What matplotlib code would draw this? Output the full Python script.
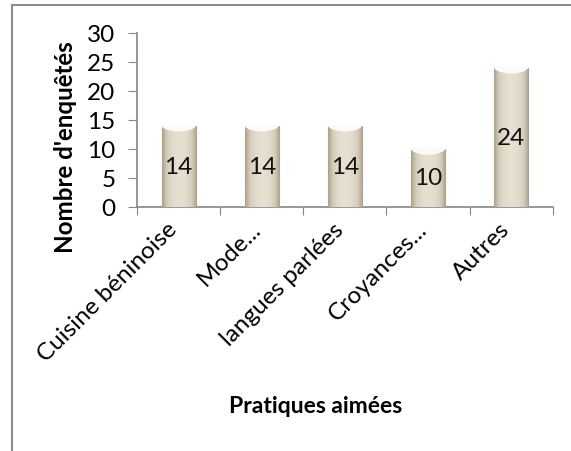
import matplotlib.pyplot as plt
import numpy as np
from matplotlib.patches import Ellipse
from matplotlib.lines import Line2D
from matplotlib.colors import LinearSegmentedColormap
from matplotlib.transforms import ScaledTranslation

## Data
categories = ['Cuisine béninoise', 'Mode...', 'langues parlées', 'Croyances...', 'Autres']
counts = [14, 14, 14, 10, 24]
y_ticks = [0, 5, 10, 15, 20, 25, 30]

plt.rcParams['font.family'] = ['Lato', 'DejaVu Sans']

fig = plt.figure(figsize=(5.71, 4.52), dpi=100)
ax = fig.add_axes([0.240, 0.540, 0.728, 0.385])

x = np.arange(len(categories))
bars = ax.bar(x, counts, width=0.41, color='#d8d0bf', edgecolor='#a9a292', linewidth=0.8, zorder=2)

## gradient fill + white cap on top of each bar
beige = LinearSegmentedColormap.from_list('beige', ['#e6e0d2', '#d6cdb9', '#aaa18e'])
grad = np.abs(np.linspace(-1, 1, 64)) ** 2
grad = grad[None, :]
for b, v in zip(bars, counts):
    x0 = b.get_x()
    w = b.get_width()
    im = ax.imshow(grad, extent=[x0, x0 + w, 0, v], aspect='auto', cmap=beige,
                   vmin=0, vmax=1, zorder=3)
    im.set_clip_path(b)
    cap = Ellipse((x0 + w / 2, v + 0.3), w * 1.05, 2.6, facecolor='#fbfaf6', edgecolor='none', zorder=4)
    ax.add_patch(cap)
    cap.set_clip_path(b)
    ax.text(x0 + w / 2, v / 2, str(v), ha='center', va='center', fontsize=17.5, color='#111111', zorder=5)

ax.set_xlim(-0.5, len(categories) - 0.5)
ax.set_ylim(0, 30)
ax.set_yticks(y_ticks)
ax.set_yticklabels([str(t) for t in y_ticks], fontsize=17.5)
ax.set_xticks(np.arange(-0.5, len(categories), 1.0), minor=False)
ax.set_xticklabels([])
ax.set_xticks(x, minor=True)
ax.set_xticklabels(categories, minor=True, rotation=45, ha='right', rotation_mode='anchor', fontsize=17.5)
ax.tick_params(axis='x', which='minor', length=0, pad=8)
ax.tick_params(axis='x', which='major', length=6, color='#868686', direction='out')
ax.tick_params(axis='y', length=6.5, color='#868686', pad=9)

## nudge the rotated labels left, like the original
shift = ScaledTranslation(-12 / 100, 0, fig.dpi_scale_trans)
for lbl in ax.get_xticklabels(minor=True):
    lbl.set_transform(lbl.get_transform() + shift)

for s in ['top', 'right']:
    ax.spines[s].set_visible(False)
for s in ['left', 'bottom']:
    ax.spines[s].set_color('#868686')
    ax.spines[s].set_linewidth(1.2)

fig.text(0.114, 0.674, "Nombre d'enquêtés", rotation=90, ha='center', va='center', fontsize=17.4, fontweight='bold')
fig.text(0.553, 0.100, 'Pratiques aimées', ha='center', va='center', fontsize=16.5, fontweight='bold')

## outer chart frame (left and top visible)
fig.add_artist(Line2D([0.021, 0.021], [0.0, 0.987], color='#8c8c8c', lw=1.5))
fig.add_artist(Line2D([0.021, 1.0], [0.987, 0.987], color='#8c8c8c', lw=1.5))

fig.savefig('out.png', dpi=100)
